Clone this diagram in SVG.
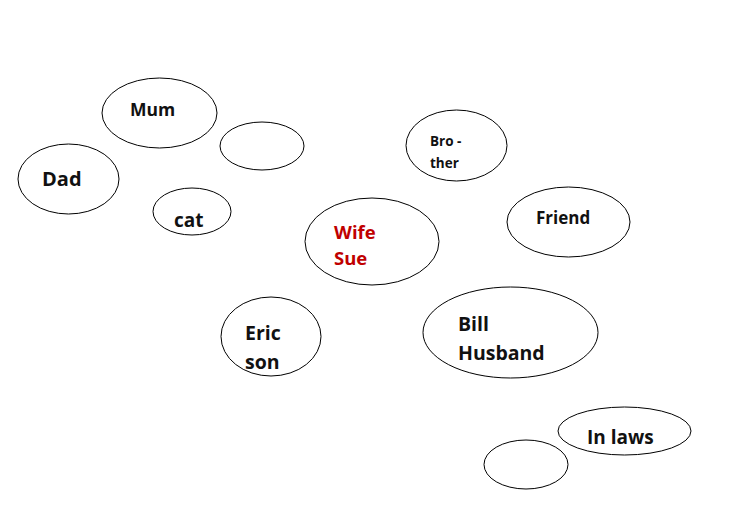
<svg xmlns="http://www.w3.org/2000/svg" width="744" height="506" viewBox="0 0 744 506">
<style>
.n{fill:#fff;stroke:#000;stroke-width:1}
.t{font-family:"Open Sans","Liberation Sans",sans-serif;font-weight:bold;fill:#111}
.r{fill:#c00000}
</style>
<rect width="744" height="506" fill="#fff"/>
<g id="connectors"></g>
<g id="mum"><ellipse class="n" cx="159.5" cy="113" rx="57.5" ry="35"/><text class="t" x="130" y="116" font-size="17.5">Mum</text></g>
<g id="blank1"><ellipse class="n" cx="262" cy="146" rx="42" ry="24"/></g>
<g id="dad"><ellipse class="n" cx="68.5" cy="179" rx="50.5" ry="35"/><text class="t" x="42" y="186" font-size="20">Dad</text></g>
<g id="cat"><ellipse class="n" cx="192" cy="211.5" rx="39" ry="23.5"/><text class="t" x="174" y="227" font-size="19">cat</text></g>
<g id="brother"><ellipse class="n" cx="456.5" cy="145.5" rx="50.5" ry="35.5"/><text class="t" x="430" y="146" font-size="13.5">Bro -</text><text class="t" x="430" y="168" font-size="13.5">ther</text></g>
<g id="wife"><ellipse class="n" cx="372" cy="241.5" rx="67" ry="43.5"/><text class="t r" x="334" y="239" font-size="18.5">Wife</text><text class="t r" x="334" y="265" font-size="18.5">Sue</text></g>
<g id="friend"><ellipse class="n" cx="568.5" cy="222" rx="61.5" ry="35"/><text class="t" x="536" y="224" font-size="17">Friend</text></g>
<g id="eric"><ellipse class="n" cx="271" cy="336.5" rx="50" ry="39.5"/><text class="t" x="245" y="340" font-size="19.5">Eric</text><text class="t" x="245" y="369" font-size="19.5">son</text></g>
<g id="bill"><ellipse class="n" cx="510.5" cy="332.5" rx="87.5" ry="45.5"/><text class="t" x="458" y="331" font-size="19.5">Bill</text><text class="t" x="458" y="360" font-size="19.5">Husband</text></g>
<g id="inlaws"><ellipse class="n" cx="624.5" cy="431" rx="66.5" ry="24"/><text class="t" x="587" y="444" font-size="19">In laws</text></g>
<g id="blank2"><ellipse class="n" cx="526" cy="464.5" rx="42" ry="24.5"/></g>
</svg>
